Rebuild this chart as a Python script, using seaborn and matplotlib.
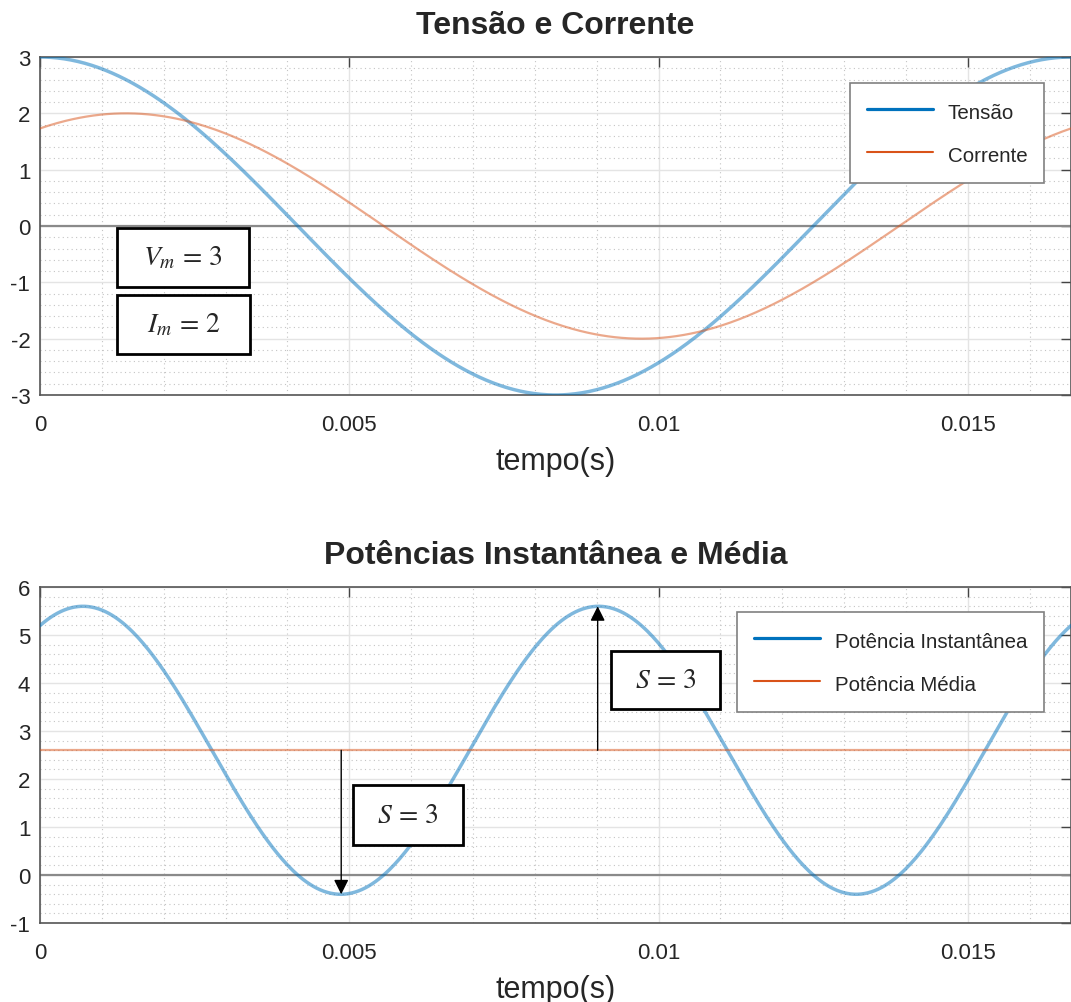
import numpy as np
import pandas as pd
import seaborn as sns
import matplotlib.pyplot as plt
from matplotlib.lines import Line2D
from matplotlib.patches import Rectangle
from matplotlib.ticker import MultipleLocator, FuncFormatter

# parâmetros
freq = 60          # Hz -> eixo x vai de 0 a 1/60 s
Vm = 3             # amplitude da tensão
Im = 2             # amplitude da corrente
phase_deg = 30     # atraso da corrente (pico em ~0.0014 s)
n_points = 600

labels_top = ["Tensão", "Corrente"]
labels_bottom = ["Potência Instantânea", "Potência Média"]
xticks = [0, 0.005, 0.01, 0.015]
yticks_top = [-3, -2, -1, 0, 1, 2, 3]
yticks_bottom = [-1, 0, 1, 2, 3, 4, 5, 6]

# curvas
t = np.linspace(0, 1 / freq, n_points)
w = 2 * np.pi * freq
phi = np.deg2rad(phase_deg)
v = Vm * np.cos(w * t)
i = Im * np.cos(w * t - phi)
p = v * i
p_avg = Vm * Im / 2 * np.cos(phi)
S = Vm * Im / 2

df_top = pd.DataFrame({"t": t, "v": v, "i": i})
df_bot = pd.DataFrame({"t": t, "p": p, "pm": np.full_like(t, p_avg)})

blue = "#0072BD"
orange = "#D95319"

sns.set_theme(style="white")
plt.rcParams["font.family"] = ["Liberation Sans", "DejaVu Sans"]
plt.rcParams["mathtext.fontset"] = "stix"
plt.rcParams["axes.unicode_minus"] = False

fig = plt.figure(figsize=(10.71, 10.03), dpi=100)
W, H = 1071, 1003
ax1 = fig.add_axes([40 / W, 1 - 396 / H, 1031 / W, 338 / H])
ax2 = fig.add_axes([40 / W, 1 - 924 / H, 1031 / W, 336 / H])


def style(ax, yticks, title):
    ax.set_xlim(0, 1 / freq)
    ax.set_ylim(yticks[0], yticks[-1])
    ax.set_xticks(xticks)
    ax.set_yticks(yticks)
    ax.xaxis.set_minor_locator(MultipleLocator(0.001))
    ax.yaxis.set_minor_locator(MultipleLocator(0.2))
    ax.xaxis.set_major_formatter(FuncFormatter(lambda x, pos: f"{x:g}"))
    ax.grid(which="major", color="#e4e4e4", lw=1, ls="-")
    ax.grid(which="minor", color="#c4c4c4", lw=0.8, ls=(0, (1, 3)))
    ax.set_axisbelow(True)
    ax.tick_params(which="major", direction="in", length=7.5, width=1,
                   top=True, right=True, color="#444444",
                   labelcolor="#262626", labelsize=16)
    ax.tick_params(axis="x", pad=14)
    ax.tick_params(axis="y", pad=7)
    ax.tick_params(which="minor", length=0)
    for s in ax.spines.values():
        s.set_color("#555555")
        s.set_linewidth(1.2)
    ax.set_xlabel("tempo(s)", fontsize=22, labelpad=7.5, color="#262626")
    ax.set_ylabel("")
    ax.set_title(title, fontsize=23, fontweight="bold", pad=17)
    ax.axhline(0, color="#8a8a8a", lw=1.6, zorder=1.5)


def legend(ax, labels, anchor):
    hs = [Line2D([], [], color=blue, lw=2.3), Line2D([], [], color=orange, lw=1.5)]
    leg = ax.legend(hs, labels, loc="upper right", bbox_to_anchor=anchor,
                    borderaxespad=0, fontsize=14.8, frameon=True, fancybox=False,
                    edgecolor="#808080", framealpha=1, handlelength=3.2,
                    handleheight=1.35, handletextpad=0.75, labelspacing=1.0,
                    borderpad=0.8)
    leg.get_frame().set_linewidth(1.2)
    for tx in leg.get_texts():
        tx.set_color("#262626")


def box(ax, x0, x1, y0, y1, txt):
    ax.add_patch(Rectangle((x0, y0), x1 - x0, y1 - y0, transform=ax.transAxes,
                           fc="white", ec="black", lw=2, zorder=5))
    ax.text((x0 + x1) / 2, (y0 + y1) / 2, txt, transform=ax.transAxes,
            ha="center", va="center", fontsize=20, zorder=6)


# Tensão e Corrente
sns.lineplot(data=df_top, x="t", y="v", ax=ax1, color=blue, lw=2.5, alpha=0.5, zorder=3)
sns.lineplot(data=df_top, x="t", y="i", ax=ax1, color=orange, lw=1.6, alpha=0.5, zorder=3)
style(ax1, yticks_top, "Tensão e Corrente")
legend(ax1, labels_top, (0.9738, 0.923))
box(ax1, 0.0747, 0.2027, 0.3195, 0.4941, r"$V_m\,=\,%d$" % Vm)
box(ax1, 0.0747, 0.2037, 0.1213, 0.2959, r"$I_m\,=\,%d$" % Im)

# Potências
sns.lineplot(data=df_bot, x="t", y="p", ax=ax2, color=blue, lw=2.5, alpha=0.5, zorder=3)
sns.lineplot(data=df_bot, x="t", y="pm", ax=ax2, color=orange, lw=1.6, alpha=0.5, zorder=3)
style(ax2, yticks_bottom, "Potências Instantânea e Média")
legend(ax2, labels_bottom, (0.9738, 0.9256))

# setas: mínimo na primeira metade do período, máximo na segunda
half = t < 1 / (2 * freq)
k_min = np.flatnonzero(half)[np.argmin(p[half])]
k_max = np.flatnonzero(~half)[np.argmax(p[~half])]
for k in (k_max, k_min):
    ax2.annotate("", xy=(t[k], p[k]), xytext=(t[k], p_avg),
                 arrowprops=dict(arrowstyle="-|>", color="black", lw=1,
                                 mutation_scale=22, shrinkA=0, shrinkB=0),
                 zorder=4)
box(ax2, 0.5538, 0.6596, 0.6369, 0.8095, r"$S\,=\,%d$" % S)
box(ax2, 0.3036, 0.4103, 0.2321, 0.4107, r"$S\,=\,%d$" % S)

fig.savefig("out.png", dpi=100)
